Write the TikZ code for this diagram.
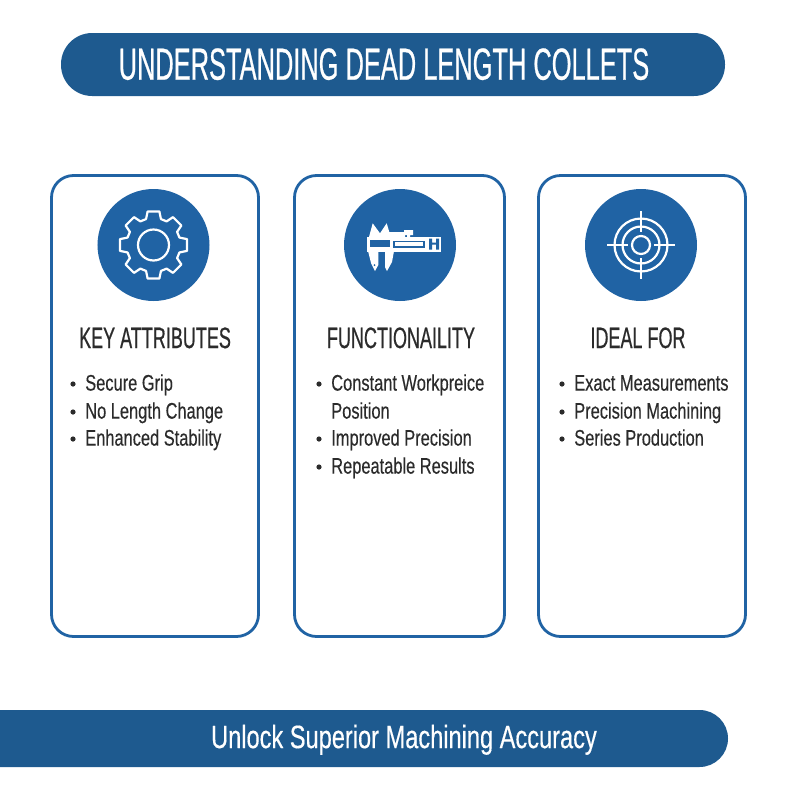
\documentclass[tikz,border=0pt]{standalone}
\usepackage{fontspec}
\setmainfont{Liberation Sans}
\newfontfamily\titlefont[FakeStretch=0.565,FakeBold=0.5]{Liberation Sans}
\newfontfamily\headfont[FakeStretch=0.61,FakeBold=0.5]{Liberation Sans}
\newfontfamily\itemfont[FakeStretch=0.73,FakeBold=0.3]{Liberation Sans}
\newfontfamily\bannerfont[FakeStretch=0.73,FakeBold=0.4]{Liberation Sans}
\definecolor{barblue}{HTML}{1E5A8F}
\definecolor{iconblue}{HTML}{2063A4}
\definecolor{inkgray}{HTML}{2B2B2B}
\begin{document}
\begin{tikzpicture}[x=.25mm,y=-.25mm,
    cardbox/.style={draw=iconblue,line width=.7mm,rounded corners=5.5mm,fill=white},
    iconbg/.style={circle,fill=iconblue,minimum size=28mm,inner sep=0pt},
    iconline/.style={draw=white,line width=.55mm,line join=round},
    headtext/.style={text=inkgray,inner sep=0pt,text height=15pt,text depth=0pt,font=\headfont\fontsize{21}{21}\selectfont},
    itemtext/.style={anchor=west,inner sep=0pt,text=inkgray,text height=11.5pt,text depth=0pt,font=\itemfont\fontsize{16}{16}\selectfont},
    dot/.style={circle,fill=inkgray,minimum size=1.3mm,inner sep=0pt}]
  \useasboundingbox (0,0) rectangle (800,800);
  \fill[barblue,rounded corners=7.8mm] (61,33) rectangle (725,96);
  \node[text=white,inner sep=0pt,text height=23pt,text depth=0pt,font=\titlefont\fontsize{32}{32}\selectfont] (title) at (384,63.5) {UNDERSTANDING DEAD LENGTH COLLETS};
  \fill[barblue] (0,710) -- (699.5,710) arc[start angle=-90,end angle=90,radius=28.5] -- (0,767) -- cycle;
  \node[text=white,inner sep=0pt,text height=16.5pt,text depth=0pt,font=\bannerfont\fontsize{23}{23}\selectfont] (banner) at (404,736.5) {Unlock Superior Machining Accuracy};
  \draw[cardbox] (51.5,175.5) rectangle (258.5,636.5);
  \draw[cardbox] (294.5,175.5) rectangle (504.5,636.5);
  \draw[cardbox] (538.5,175.5) rectangle (745.5,636.5);
  \node[iconbg] (gearbg) at (153.5,245) {};
  \node[iconbg] (caliperbg) at (400,245) {};
  \node[iconbg] (targetbg) at (641,245) {};
  % gear
  \begin{scope}[shift={(153.5,245)}]
    \draw[iconline] (0,0) circle (15.5);
    \draw[iconline] (-10:34) \foreach \k in {0,45,...,315} {
        -- ({\k+10}:34) -- ({\k+16}:27) -- ({\k+29}:27) -- ({\k+35}:34)
      } -- cycle;
  \end{scope}
  % caliper
  \begin{scope}[shift={(360,215)}]
    \fill[white] (9,22) -- (12.7,8.3) -- (20,18.3) -- (26.7,8.3) -- (29.3,17) -- (45,17) -- (45,22) -- cycle;
    \fill[white] (6.7,21.5) rectangle (80.7,36.7);
    \fill[iconblue] (10,25) rectangle (30,31.7);
    \fill[white] (44,15) rectangle (53,20) (47,20) rectangle (50,22);
    \fill[iconblue] (33.3,25.5) rectangle (65,32.7);
    \fill[white] (35,27) rectangle (63,31);
    \fill[iconblue] (69,23.5) rectangle (72,34.5) (76,23.5) rectangle (79,34.5) (72,27.5) rectangle (76,29.5);
    \fill[white] (8,36) -- (18.3,36) -- (18.3,50) -- (15,56) -- (11,48) -- cycle;
    \fill[white] (25,36) -- (34,36) -- (32,47) -- (27,56) -- (25,52) -- cycle;
    \fill[iconblue] (14.5,50) circle (1);
  \end{scope}
  % target
  \begin{scope}[shift={(641,245)}]
    \draw[iconline] (0,0) circle (9);
    \draw[iconline] (0,0) circle (18.5);
    \draw[iconline] (0,0) circle (26.5);
    \draw[iconline] (-34,0) -- (-13,0) (13,0) -- (34,0) (0,-34) -- (0,-13) (0,13) -- (0,34);
  \end{scope}
  \node[headtext] (attrhead) at (155,337.5) {KEY ATTRIBUTES};
  \node[headtext] (funchead) at (401,337.5) {FUNCTIONAILITY};
  \node[headtext] (idealhead) at (638,337.5) {IDEAL FOR};
  \foreach \name/\x/\y/\txt in {a/85/383/Secure Grip,b/85/411/No Length Change,c/85/438/Enhanced Stability,
      d/331/383/Constant Workpreice,f/331/438/Improved Precision,g/331/466/Repeatable Results,
      h/574/383/Exact Measurements,i/574/411/Precision Machining,j/574/438/Series Production} {
    \node[itemtext] (item\name) at (\x,\y-.5) {\txt};
    \node[dot] (dot\name) at (\x-12,\y+1) {};
  }
  \node[itemtext] (iteme) at (331,410.5) {Position};
\end{tikzpicture}
\end{document}
